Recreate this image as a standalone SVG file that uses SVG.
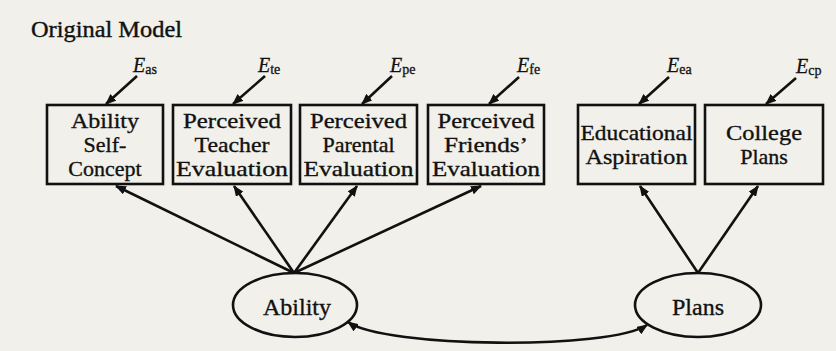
<svg xmlns="http://www.w3.org/2000/svg" width="836" height="351" viewBox="0 0 836 351">
<style>
.bg{fill:#f1f0ea}
.box{fill:none;stroke:#111;stroke-width:2.6}
.ell{fill:none;stroke:#111;stroke-width:2.6}
.t{font-family:"Liberation Serif","Times New Roman",serif;font-size:22px;fill:#111;stroke:#111;stroke-width:0.35;text-anchor:middle}
.te{font-family:"Liberation Serif","Times New Roman",serif;font-size:24px;fill:#111;stroke:#111;stroke-width:0.35;text-anchor:middle}
.title{font-family:"Liberation Serif","Times New Roman",serif;font-size:23.5px;fill:#111;stroke:#111;stroke-width:0.4}
.e{font-family:"Liberation Serif","Times New Roman",serif;font-size:20px;fill:#111;font-style:italic;stroke:#111;stroke-width:0.3}
.sub{font-style:normal;font-size:14px}
.ln{stroke:#111;stroke-width:2.6;fill:none;marker-end:url(#ah)}
</style>
<defs>
<marker id="ah" markerUnits="userSpaceOnUse" markerWidth="11" markerHeight="9" refX="10" refY="4.5" orient="auto">
<path d="M0,0 L11,4.5 L0,9 z" fill="#111"/>
</marker>
<marker id="ah2" markerUnits="userSpaceOnUse" markerWidth="11" markerHeight="9" refX="10" refY="4.5" orient="auto-start-reverse">
<path d="M0,0 L11,4.5 L0,9 z" fill="#111"/>
</marker>
</defs>
<rect class="bg" x="0" y="0" width="836" height="351"/>
<text class="title" x="31" y="37" textLength="151" lengthAdjust="spacingAndGlyphs">Original Model</text>

<g id="n_as">
<rect class="box" x="47" y="105" width="116" height="79"/>
<text class="t" x="105" y="128" textLength="68" lengthAdjust="spacingAndGlyphs">Ability</text>
<text class="t" x="105" y="152">Self-</text>
<text class="t" x="105" y="176">Concept</text>
</g>
<g id="n_te">
<rect class="box" x="173" y="105" width="118" height="79"/>
<text class="t" x="232" y="128" textLength="98" lengthAdjust="spacingAndGlyphs">Perceived</text>
<text class="t" x="232" y="152" textLength="75" lengthAdjust="spacingAndGlyphs">Teacher</text>
<text class="t" x="232" y="176" textLength="112" lengthAdjust="spacingAndGlyphs">Evaluation</text>
</g>
<g id="n_pe">
<rect class="box" x="300" y="105" width="117" height="79"/>
<text class="t" x="358.5" y="128" textLength="97" lengthAdjust="spacingAndGlyphs">Perceived</text>
<text class="t" x="358.5" y="152">Parental</text>
<text class="t" x="358.5" y="176" textLength="110" lengthAdjust="spacingAndGlyphs">Evaluation</text>
</g>
<g id="n_fe">
<rect class="box" x="428" y="105" width="116" height="79"/>
<text class="t" x="486" y="128" textLength="97" lengthAdjust="spacingAndGlyphs">Perceived</text>
<text class="t" x="486" y="152" textLength="84" lengthAdjust="spacingAndGlyphs">Friends’</text>
<text class="t" x="486" y="176" textLength="108" lengthAdjust="spacingAndGlyphs">Evaluation</text>
</g>
<g id="n_ea">
<rect class="box" x="578" y="105" width="117" height="79"/>
<text class="t" x="636.5" y="140" textLength="112" lengthAdjust="spacingAndGlyphs">Educational</text>
<text class="t" x="636.5" y="164" textLength="102" lengthAdjust="spacingAndGlyphs">Aspiration</text>
</g>
<g id="n_cp">
<rect class="box" x="705" y="105" width="118" height="79"/>
<text class="t" x="764" y="140" textLength="76" lengthAdjust="spacingAndGlyphs">College</text>
<text class="t" x="764" y="164">Plans</text>
</g>
<g id="n_ability">
<ellipse class="ell" cx="295" cy="305" rx="62" ry="32"/>
<text class="te" x="297" y="315">Ability</text>
</g>
<g id="n_plans">
<ellipse class="ell" cx="698" cy="305" rx="63" ry="32"/>
<text class="te" x="698" y="315">Plans</text>
</g>

<g id="errors">
<text class="e" x="133" y="72">E<tspan class="sub" dy="2">as</tspan></text>
<text class="e" x="258" y="72">E<tspan class="sub" dy="2">te</tspan></text>
<text class="e" x="390" y="72">E<tspan class="sub" dy="2">pe</tspan></text>
<text class="e" x="517" y="72">E<tspan class="sub" dy="2">fe</tspan></text>
<text class="e" x="667" y="72">E<tspan class="sub" dy="2">ea</tspan></text>
<text class="e" x="796" y="73">E<tspan class="sub" dy="2">cp</tspan></text>
</g>

<g id="connectors">
<line class="ln" x1="137" y1="76" x2="106" y2="104"/>
<line class="ln" x1="265" y1="76" x2="233" y2="104"/>
<line class="ln" x1="392" y1="76" x2="362" y2="104"/>
<line class="ln" x1="519" y1="77" x2="489" y2="104"/>
<line class="ln" x1="669" y1="77" x2="639" y2="104"/>
<line class="ln" x1="796" y1="78" x2="766" y2="104"/>

<line class="ln" x1="294" y1="273" x2="116" y2="186"/>
<line class="ln" x1="294" y1="273" x2="234" y2="186"/>
<line class="ln" x1="294" y1="273" x2="357" y2="186"/>
<line class="ln" x1="294" y1="273" x2="481" y2="186"/>
<line class="ln" x1="698" y1="273" x2="640" y2="186"/>
<line class="ln" x1="698" y1="273" x2="758" y2="186"/>

<path d="M348,322 C385,348 610,350 647,325" stroke="#111" stroke-width="2.6" fill="none" marker-start="url(#ah2)" marker-end="url(#ah2)"/>
</g>
</svg>
